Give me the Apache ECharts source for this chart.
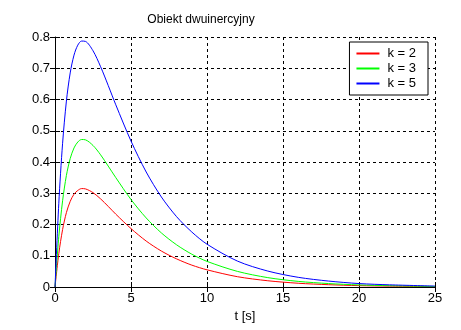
<!DOCTYPE html>
<html><head><meta charset="utf-8">
<script src="https://cdn.jsdelivr.net/npm/echarts@6/dist/echarts.min.js"></script>
<style>html,body{margin:0;padding:0;background:#fff}#c{width:461px;height:330px}</style>
</head><body><div id="c"></div>
<script>
const times = [0, 0.25, 0.5, 0.75, 1, 1.25, 1.5, 1.75, 2, 2.5, 3, 3.5, 4, 5, 6, 7, 8, 9, 10, 12, 14, 16, 18, 20, 22, 25];
const k2 = [0, 0.107, 0.184, 0.238, 0.274, 0.297, 0.309, 0.315, 0.314, 0.302, 0.282, 0.258, 0.233, 0.187, 0.147, 0.115, 0.090, 0.070, 0.055, 0.033, 0.020, 0.012, 0.0074, 0.0044, 0.0028, 0.0012];
const k3 = [0, 0.161, 0.276, 0.357, 0.411, 0.445, 0.464, 0.472, 0.471, 0.453, 0.423, 0.387, 0.350, 0.280, 0.221, 0.173, 0.135, 0.105, 0.082, 0.050, 0.030, 0.018, 0.011, 0.0066, 0.0042, 0.0018];
const k5 = [0, 0.268, 0.460, 0.595, 0.685, 0.742, 0.774, 0.787, 0.786, 0.756, 0.705, 0.645, 0.583, 0.467, 0.368, 0.288, 0.225, 0.176, 0.137, 0.083, 0.051, 0.031, 0.019, 0.011, 0.007, 0.003];
const seriesNames = ['k = 2', 'k = 3', 'k = 5'];
const title = 'Obiekt dwuinercyjny';
const xLabel = 't [s]';

const font = 'Liberation Sans, Arial, sans-serif';
const pairs = a => times.map((t, i) => [t, a[i]]);
const chart = echarts.init(document.getElementById('c'));
const axisBase = {
  axisLine: {show: true, lineStyle: {color: '#000', width: 1}},
  axisTick: {show: true, inside: true, length: 5, lineStyle: {color: '#000'}},
};
chart.setOption({
  animation: false,
  backgroundColor: '#fff',
  title: {text: title, left: 196, top: 9, textAlign: 'center',
    textStyle: {fontFamily: font, fontSize: 12, fontWeight: 'normal', color: '#000'}},
  grid: {left: 55, right: 26, top: 37, bottom: 43},
  legend: {
    right: 33, top: 42, orient: 'vertical', backgroundColor: '#fff',
    borderColor: '#000', borderWidth: 1, borderRadius: 0,
    padding: [4, 12, 4, 7], itemGap: 0, itemWidth: 23, itemHeight: 2,
    icon: 'rect',
    textStyle: {fontFamily: font, fontSize: 13, color: '#000', lineHeight: 15, padding: [0, 0, 0, 3]},
    data: seriesNames
  },
  xAxis: [
    Object.assign({type: 'value', min: 0, max: 25, interval: 5, position: 'bottom',
      name: xLabel, nameLocation: 'middle', nameGap: 22,
      nameTextStyle: {fontFamily: font, fontSize: 13, color: '#000'},
      axisLabel: {fontFamily: font, fontSize: 13, color: '#000', margin: 5},
      splitLine: {show: true, lineStyle: {color: '#000', type: [3, 3], width: 1}}}, axisBase),
    Object.assign({type: 'value', min: 0, max: 25, interval: 5, position: 'top',
      axisLabel: {show: false}, splitLine: {show: false}}, axisBase,
      {axisLine: {show: false}})
  ],
  yAxis: [
    Object.assign({type: 'value', min: 0, max: 0.8, interval: 0.1, position: 'left',
      axisLabel: {fontFamily: font, fontSize: 13, color: '#000', margin: 5},
      splitLine: {show: true, lineStyle: {color: '#000', type: [3, 3], width: 1}}}, axisBase),
    Object.assign({type: 'value', min: 0, max: 0.8, interval: 0.1, position: 'right',
      axisLabel: {show: false}, splitLine: {show: false}}, axisBase,
      {axisLine: {show: false}})
  ],
  series: [
    {name: seriesNames[0], type: 'line', data: pairs(k2), color: '#ff0000'},
    {name: seriesNames[1], type: 'line', data: pairs(k3), color: '#00ff00'},
    {name: seriesNames[2], type: 'line', data: pairs(k5), color: '#0000ff'}
  ].map(s => Object.assign(s, {showSymbol: false, smooth: 0.3, lineStyle: {width: 1}, z: 3}))
});
</script></body></html>
